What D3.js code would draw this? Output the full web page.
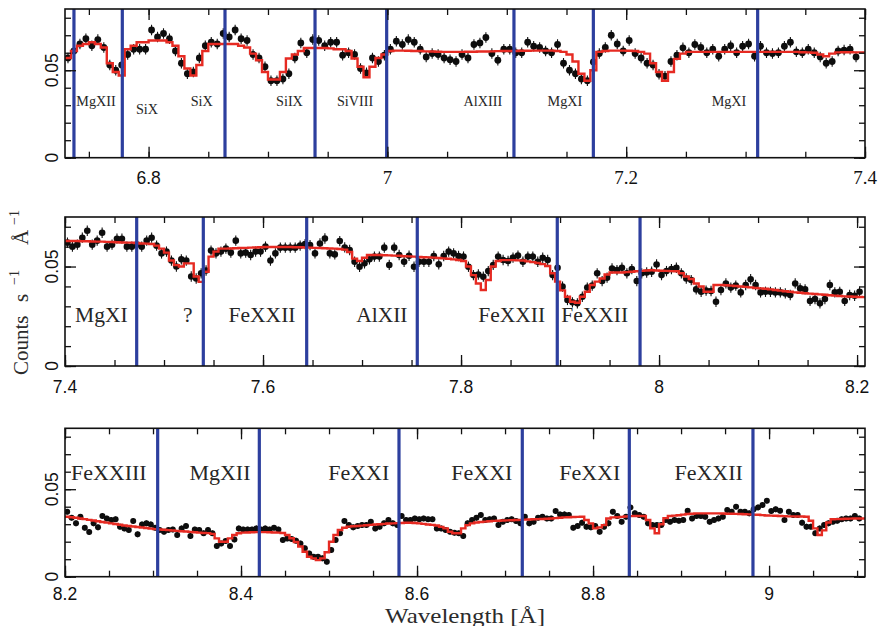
<!DOCTYPE html>
<html>
<head>
<meta charset="utf-8">
<script src="https://cdn.jsdelivr.net/npm/d3@7"></script>
<style>
  html, body { margin: 0; padding: 0; background: #fff; }
  svg { display: block; }
</style>
</head>
<body>
<svg id="chart" width="879" height="626"></svg>
<script>
// ---------------- spectral data (counts s^-1 A^-1, 0.005 A bins) ----------------
const binWidth = 0.005;

// Panel 1: 6.73 - 7.40 A
const p1Start = 6.73;
const p1Counts = [
  0.057,0.061,0.065,0.068,0.064,0.0675,0.063,0.053,0.050,0.053,
  0.059,0.062,0.062,0.062,0.073,0.069,0.071,0.068,0.061,0.054,
  0.048,0.049,0.057,0.064,0.066,0.065,0.071,0.069,0.073,0.068,
  0.067,0.059,0.057,0.052,0.044,0.044,0.045,0.048,0.057,0.0656,
  0.060,0.0675,0.067,0.064,0.066,0.066,0.0586,0.060,0.059,0.051,
  0.0485,0.057,0.055,0.0586,0.062,0.0666,0.0647,0.0675,0.066,0.062,
  0.0576,0.0595,0.059,0.057,0.056,0.055,0.059,0.057,0.0647,0.0656,
  0.0687,0.0595,0.0557,0.062,0.062,0.060,0.060,0.066,0.0637,0.063,
  0.061,0.060,0.0647,0.054,0.050,0.048,0.045,0.044,0.0547,0.0595,
  0.063,0.070,0.065,0.061,0.067,0.0595,0.057,0.054,0.053,0.0477,
  0.0466,0.055,0.0586,0.0628,0.060,0.0647,0.063,0.060,0.062,0.058,
  0.062,0.064,0.060,0.0637,0.065,0.058,0.0637,0.060,0.0595,0.060,
  0.0637,0.066,0.0605,0.060,0.062,0.060,0.0576,0.054,0.055,0.061,
  0.0615,0.062,0.0576
];
const p1Model = [
  0.057,0.061,0.064,0.065,0.066,0.065,0.063,0.054,0.049,0.047,
  0.062,0.064,0.066,0.066,0.067,0.067,0.067,0.066,0.064,0.058,
  0.051,0.047,0.053,0.061,0.065,0.065,0.065,0.065,0.065,0.064,
  0.063,0.0595,0.0557,0.049,0.0447,0.0447,0.049,0.0567,0.059,0.061,
  0.0627,0.0627,0.0627,0.0627,0.0625,0.062,0.062,0.061,0.0567,0.052,
  0.046,0.052,0.057,0.059,0.061,0.0612,0.0612,0.0611,0.061,0.061,
  0.0608,0.0607,0.0606,0.0605,0.0605,0.0605,0.0605,0.0606,0.0606,0.0607,
  0.0607,0.0608,0.0609,0.061,0.061,0.061,0.0611,0.0611,0.0612,0.0612,
  0.0612,0.0612,0.061,0.0605,0.059,0.055,0.048,0.044,0.050,0.0605,
  0.061,0.0612,0.0612,0.0612,0.0611,0.061,0.0605,0.0595,0.054,0.049,
  0.044,0.049,0.0565,0.0595,0.0605,0.0605,0.0605,0.0605,0.0605,0.0605,
  0.0605,0.0605,0.0605,0.0605,0.0605,0.0605,0.0605,0.0605,0.0605,0.0605,
  0.0605,0.0605,0.0605,0.0603,0.0602,0.060,0.059,0.058,0.0595,0.0602,
  0.0603,0.0603,0.0602,0.0602
];
const p1Lines = [6.7375, 6.778, 6.864, 6.9394, 6.9994, 7.106, 7.1725, 7.3101];
const p1Ions = ["MgXII", "SiX", "SiX", "SiIX", "SiVIII", "AlXIII", "MgXI", "MgXI"];
const p1IonWave = [6.756, 6.7987, 6.8445, 6.918, 6.9729, 7.080, 7.1487, 7.2861];
const p1IonLevel = [0.0295, 0.0247, 0.0295, 0.0295, 0.0295, 0.0295, 0.0295, 0.0295];
const p1TickLabels = ["6.8", "7", "7.2", "7.4"];
const p1TickValues = [6.8, 7.0, 7.2, 7.4];

// Panel 2: 7.40 - 8.21 A
const p2Start = 7.4;
const p2Counts = [
  0.062,0.060,0.061,0.0645,0.068,0.061,0.063,0.067,0.060,0.061,
  0.064,0.064,0.060,0.060,0.061,0.060,0.063,0.0645,0.0605,0.0566,
  0.0575,0.053,0.050,0.0536,0.053,0.045,0.044,0.0466,0.048,0.058,
  0.0566,0.0575,0.059,0.057,0.063,0.0566,0.057,0.0558,0.0575,0.0575,
  0.060,0.053,0.0566,0.0595,0.0595,0.0595,0.0595,0.0605,0.0613,0.0608,
  0.0566,0.0616,0.0641,0.0566,0.0561,0.0628,0.0596,0.0583,0.0524,0.0499,
  0.0516,0.0536,0.055,0.055,0.0595,0.0508,0.0595,0.0558,0.0524,0.0554,
  0.0499,0.0524,0.0524,0.0524,0.0553,0.0511,0.0553,0.0575,0.0566,0.0553,
  0.055,0.0499,0.0457,0.046,0.0449,0.0477,0.0508,0.055,0.0533,0.0528,
  0.0545,0.0555,0.0524,0.055,0.055,0.0524,0.0544,0.0533,0.0457,0.0494,
  0.0399,0.0332,0.032,0.0315,0.0348,0.0394,0.0404,0.0466,0.0427,0.0444,
  0.049,0.0482,0.0494,0.0466,0.0487,0.0427,0.0466,0.047,0.0474,0.051,
  0.0457,0.0477,0.0487,0.0494,0.0466,0.044,0.0432,0.0385,0.0373,0.0379,
  0.0377,0.0323,0.0382,0.0415,0.0394,0.0404,0.037,0.0407,0.0436,0.0407,
  0.037,0.0373,0.0373,0.037,0.037,0.0365,0.0357,0.0415,0.039,0.0385,
  0.0327,0.0337,0.0315,0.0337,0.0407,0.037,0.0373,0.0327,0.0357,0.0353,0.0373
];
const p2Model = [
  0.0628,0.0628,0.0628,0.0627,0.0627,0.0626,0.0625,0.0625,0.0624,0.0623,
  0.0622,0.0621,0.062,0.062,0.0618,0.0616,0.0615,0.0613,0.0605,0.059,
  0.057,0.053,0.0507,0.050,0.0516,0.0516,0.045,0.0423,0.0474,0.055,
  0.0575,0.059,0.059,0.0591,0.0592,0.0593,0.0594,0.0595,0.0596,0.0597,
  0.0598,0.0598,0.0598,0.0598,0.0598,0.0598,0.0597,0.0597,0.0596,0.0595,
  0.0594,0.0593,0.0592,0.0591,0.059,0.0588,0.0585,0.0573,0.054,0.0528,
  0.0544,0.0558,0.0558,0.0558,0.0557,0.0556,0.0555,0.0554,0.0552,0.0551,
  0.055,0.0548,0.0547,0.0546,0.0545,0.0543,0.0541,0.0539,0.0536,0.0533,
  0.0528,0.050,0.0457,0.0415,0.0382,0.0432,0.050,0.0528,0.0532,0.0532,
  0.0532,0.0531,0.053,0.0526,0.0522,0.0518,0.0512,0.0503,0.0466,0.0424,
  0.038,0.0348,0.0323,0.0318,0.0348,0.0373,0.0407,0.0424,0.044,0.046,
  0.047,0.047,0.047,0.0472,0.0474,0.0476,0.0478,0.048,0.0481,0.048,
  0.0479,0.0478,0.0477,0.0476,0.0466,0.045,0.0437,0.0415,0.040,0.0373,
  0.0373,0.0407,0.0407,0.0406,0.0404,0.0402,0.040,0.0398,0.0395,0.0392,
  0.039,0.0388,0.0385,0.0382,0.0379,0.0376,0.0373,0.037,0.0368,0.0366,
  0.0364,0.0362,0.036,0.0358,0.0356,0.0354,0.0352,0.035,0.0349,0.0348,0.0347,0.0346
];
const p2Lines = [7.4724, 7.5397, 7.6441, 7.7558, 7.8972, 7.9808];
const p2Ions = ["MgXI", "?", "FeXXII", "AlXII", "FeXXII", "FeXXII"];
const p2IonWave = [7.4367, 7.524, 7.599, 7.720, 7.8512, 7.935];
const p2IonLevel = [0.022, 0.022, 0.022, 0.022, 0.022, 0.022];
const p2TickLabels = ["7.4", "7.6", "7.8", "8", "8.2"];
const p2TickValues = [7.4, 7.6, 7.8, 8.0, 8.2];

// Panel 3: 8.20 - 9.11 A
const p3Start = 8.2;
const p3Counts = [
  0.0371,0.0337,0.0305,0.0343,0.028,0.0255,0.0305,0.0282,0.0347,0.0333,
  0.0324,0.0328,0.0286,0.0276,0.0267,0.0318,0.0242,0.0299,0.0305,0.0299,
  0.028,0.0267,0.0257,0.0267,0.027,0.0238,0.0276,0.029,0.0232,0.027,
  0.0267,0.0248,0.0267,0.0248,0.0175,0.019,0.0204,0.0175,0.0213,0.0276,
  0.027,0.027,0.027,0.0276,0.027,0.0276,0.027,0.028,0.027,0.021,
  0.0219,0.0215,0.0206,0.019,0.0162,0.0133,0.0114,0.0114,0.0105,0.0086,
  0.0152,0.021,0.0248,0.0318,0.0295,0.0282,0.029,0.0295,0.0295,0.0314,
  0.0276,0.0286,0.0305,0.0324,0.0305,0.0295,0.0347,0.0324,0.0324,0.0333,
  0.0328,0.0333,0.0328,0.0328,0.0276,0.0276,0.0267,0.0257,0.0251,0.0248,
  0.0232,0.0305,0.0324,0.0337,0.0352,0.0324,0.0328,0.0333,0.0295,0.0314,
  0.0324,0.0328,0.0318,0.0305,0.0343,0.0305,0.0314,0.0337,0.0343,0.0333,
  0.0333,0.0375,0.0356,0.0356,0.0352,0.028,0.029,0.0309,0.0286,0.0282,
  0.029,0.0257,0.0286,0.0305,0.0371,0.0347,0.0314,0.0343,0.0396,0.0362,
  0.0352,0.0343,0.0305,0.0295,0.0295,0.0295,0.0324,0.0314,0.0324,0.032,
  0.0324,0.0377,0.0333,0.0347,0.0347,0.0343,0.0314,0.0324,0.0333,0.0343,
  0.0381,0.0371,0.040,0.0371,0.0371,0.0362,0.0385,0.0396,0.041,0.0434,
  0.0375,0.0385,0.0377,0.0324,0.0371,0.0352,0.0352,0.0309,0.0286,0.0286,
  0.0248,0.0276,0.0295,0.0305,0.0314,0.032,0.0328,0.0333,0.0333,0.0347,0.0333
];
const p3Model = [
  0.0343,0.034,0.0337,0.0333,0.0329,0.0325,0.0321,0.0317,0.0313,0.0309,
  0.0305,0.0301,0.0297,0.0293,0.029,0.0287,0.0284,0.0281,0.0278,0.0275,
  0.0272,0.027,0.0268,0.0266,0.0264,0.0262,0.026,0.0258,0.0256,0.0254,
  0.0252,0.025,0.0249,0.0245,0.0219,0.0200,0.0200,0.0219,0.0238,0.0248,
  0.0252,0.0253,0.0254,0.0255,0.0255,0.0255,0.0254,0.0253,0.0252,0.025,
  0.0238,0.022,0.0198,0.0173,0.0143,0.0114,0.0105,0.0095,0.0105,0.0140,
  0.020,0.0238,0.0267,0.028,0.0286,0.0288,0.029,0.0292,0.0294,0.0296,
  0.0298,0.030,0.0302,0.0304,0.0305,0.0306,0.0307,0.0308,0.0308,0.0307,
  0.0305,0.0302,0.0298,0.0296,0.0293,0.0285,0.0276,0.0257,0.0248,0.0248,
  0.0276,0.0295,0.0305,0.031,0.0313,0.0315,0.0317,0.0319,0.032,0.0321,
  0.0322,0.0323,0.0324,0.0325,0.0326,0.0327,0.0328,0.0329,0.033,0.0331,
  0.0333,0.0335,0.0337,0.0339,0.034,0.0341,0.0342,0.0343,0.0324,0.0305,
  0.0276,0.0282,0.0295,0.0333,0.0339,0.034,0.0342,0.0344,0.0346,0.0347,
  0.0347,0.0347,0.0324,0.0276,0.0248,0.030,0.0335,0.0347,0.0349,0.0351,
  0.0355,0.0358,0.036,0.0362,0.0362,0.0362,0.0362,0.0362,0.0362,0.0361,
  0.036,0.036,0.0359,0.0358,0.0357,0.0356,0.0355,0.0354,0.0352,0.035,
  0.0349,0.0348,0.0347,0.0346,0.0345,0.0345,0.0344,0.0344,0.0343,0.032,
  0.0276,0.0238,0.0265,0.031,0.0328,0.0329,0.033,0.0331,0.0332,0.0333,0.0333,0.0333
];
const p3Lines = [8.3053, 8.4208, 8.5795, 8.7196, 8.8412, 8.9817];
const p3Ions = ["FeXXIII", "MgXII", "FeXXI", "FeXXI", "FeXXI", "FeXXII"];
const p3IonWave = [8.2498, 8.3761, 8.5338, 8.6736, 8.7962, 8.9314];
const p3IonLevel = [0.0553, 0.0553, 0.0553, 0.0553, 0.0553, 0.0553];
const p3TickLabels = ["8.2", "8.4", "8.6", "8.8", "9"];
const p3TickValues = [8.2, 8.4, 8.6, 8.8, 9.0];

// 1-sigma error half-widths
const p1Err = 0.003, p2Err = 0.0026, p3Err = 0.0016;

// ---------------- layout ----------------
const plotLeft = 65, plotRight = 865;
const RED = "#e62a22", BLUE = "#2d3f9e";
const SERIF = "'Liberation Serif', 'Times New Roman', serif";
const SANS = "'Liberation Sans', Arial, sans-serif";

const panels = [
  { start: p1Start, counts: p1Counts, model: p1Model, err: p1Err, lines: p1Lines,
    ions: p1Ions, ionWave: p1IonWave, ionLevel: p1IonLevel,
    tickValues: p1TickValues, tickLabels: p1TickLabels,
    top: 9, bottom: 157.7, xDom: [6.73, 7.4], yMax: 0.085, minorK: [135, 148],
    ionSize: 14.2, dotR: 3.4, labelBase: 183.5, serifTicks: [false, true, true, true] },
  { start: p2Start, counts: p2Counts, model: p2Model, err: p2Err, lines: p2Lines,
    ions: p2Ions, ionWave: p2IonWave, ionLevel: p2IonLevel,
    tickValues: p2TickValues, tickLabels: p2TickLabels,
    top: 217, bottom: 366, xDom: [7.4, 8.208], yMax: 0.0749, minorK: [148, 164],
    ionSize: 21.5, dotR: 3.3, labelBase: 392.5, serifTicks: [false, false, false, false, false] },
  { start: p3Start, counts: p3Counts, model: p3Model, err: p3Err, lines: p3Lines,
    ions: p3Ions, ionWave: p3IonWave, ionLevel: p3IonLevel,
    tickValues: p3TickValues, tickLabels: p3TickLabels,
    top: 428.3, bottom: 576.7, xDom: [8.2, 9.109], yMax: 0.0848, minorK: [164, 182],
    ionSize: 22, dotR: 3.0, labelBase: 599.5, serifTicks: [false, false, false, false, false] }
];

const svg = d3.select("#chart");
const defs = svg.append("defs");

panels.forEach((p, pi) => {
  const x = d3.scaleLinear().domain(p.xDom).range([plotLeft, plotRight]);
  const y = d3.scaleLinear().domain([0, p.yMax]).range([p.bottom, p.top]);
  const g = svg.append("g");

  const clipId = "clip" + pi;
  defs.append("clipPath").attr("id", clipId)
    .append("rect").attr("x", plotLeft).attr("y", p.top)
    .attr("width", plotRight - plotLeft).attr("height", p.bottom - p.top);
  const inner = g.append("g").attr("clip-path", `url(#${clipId})`);

  // ---- ticks (inward on all four sides) ----
  const minor = d3.range(p.minorK[0], p.minorK[1] + 1).map(k => +(k * 0.05).toFixed(2));
  const yMinor = d3.range(0, Math.floor(p.yMax * 100 + 1e-6) + 1).map(k => k / 100);
  const yMajor = [0, 0.05];
  const styleAxis = sel => {
    sel.select(".domain").remove();
    sel.selectAll("line").attr("stroke", "#111").attr("stroke-width", 1.3);
  };
  const addX = (axisFn, ty, vals, size) => {
    g.append("g").attr("transform", `translate(0,${ty})`)
      .call(axisFn(x).tickValues(vals).tickSize(-size).tickFormat(""))
      .call(styleAxis);
  };
  const addY = (axisFn, tx, vals, size) => {
    g.append("g").attr("transform", `translate(${tx},0)`)
      .call(axisFn(y).tickValues(vals).tickSize(-size).tickFormat(""))
      .call(styleAxis);
  };
  addX(d3.axisBottom, p.bottom, minor, 6);
  addX(d3.axisBottom, p.bottom, p.tickValues, 11);
  addX(d3.axisTop, p.top, minor, 6);
  addX(d3.axisTop, p.top, p.tickValues, 11);
  addY(d3.axisLeft, plotLeft, yMinor, 6);
  addY(d3.axisLeft, plotLeft, yMajor, 11);
  addY(d3.axisRight, plotRight, yMinor, 6);
  addY(d3.axisRight, plotRight, yMajor, 11);

  // ---- x tick labels ----
  g.selectAll("text.xt").data(p.tickValues).join("text")
    .attr("class", "xt")
    .attr("x", d => x(d))
    .attr("y", p.labelBase)
    .attr("text-anchor", "middle")
    .attr("font-family", (d, i) => p.serifTicks[i] ? SERIF : SANS)
    .attr("font-size", (d, i) => p.serifTicks[i] ? 19 : 17.5)
    .attr("fill", "#111")
    .text((d, i) => p.tickLabels[i]);

  // ---- y tick labels (rotated) ----
  g.selectAll("text.yt").data(yMajor).join("text")
    .attr("class", "yt")
    .attr("transform", d => `translate(58,${y(d)}) rotate(-90)`)
    .attr("text-anchor", "middle")
    .attr("font-family", SANS)
    .attr("font-size", 17.5)
    .attr("fill", "#111")
    .text(d => d === 0 ? "0" : "0.05");

  // ---- ion labels ----
  g.selectAll("text.ion").data(p.ions).join("text")
    .attr("class", "ion")
    .attr("x", (d, i) => x(p.ionWave[i]))
    .attr("y", (d, i) => y(p.ionLevel[i]))
    .attr("text-anchor", "middle")
    .attr("font-family", SERIF)
    .attr("font-size", p.ionSize)
    .attr("fill", "#262626")
    .text(d => d);

  // ---- observed counts with error bars ----
  const pts = p.counts.map((v, i) => ({ w: p.start + (i + 0.5) * binWidth, v }));
  inner.selectAll("line.err").data(pts).join("line")
    .attr("class", "err")
    .attr("x1", d => x(d.w)).attr("x2", d => x(d.w))
    .attr("y1", d => y(d.v - p.err)).attr("y2", d => y(d.v + p.err))
    .attr("stroke", "#111").attr("stroke-width", 1.1);
  inner.selectAll("circle.pt").data(pts).join("circle")
    .attr("class", "pt")
    .attr("cx", d => x(d.w)).attr("cy", d => y(d.v))
    .attr("r", p.dotR)
    .attr("fill", "#0d0d0d");

  // ---- model spectrum (histogram steps) ----
  const stepPts = p.model.map((v, i) => [p.start + i * binWidth, v]);
  stepPts.push([p.start + p.model.length * binWidth, p.model[p.model.length - 1]]);
  inner.append("path")
    .datum(stepPts)
    .attr("d", d3.line().x(d => x(d[0])).y(d => y(d[1])).curve(d3.curveStepAfter))
    .attr("fill", "none")
    .attr("stroke", RED)
    .attr("stroke-width", 2.4);

  // ---- line identifications ----
  inner.selectAll("line.id").data(p.lines).join("line")
    .attr("class", "id")
    .attr("x1", d => x(d)).attr("x2", d => x(d))
    .attr("y1", p.top).attr("y2", p.bottom)
    .attr("stroke", BLUE).attr("stroke-width", 3.2);

  // ---- frame ----
  g.append("rect")
    .attr("x", plotLeft).attr("y", p.top)
    .attr("width", plotRight - plotLeft).attr("height", p.bottom - p.top)
    .attr("fill", "none").attr("stroke", "#111").attr("stroke-width", 1.6);
});

// ---- axis titles ----
const yTitle = svg.append("g").attr("transform", "translate(27.5,375) rotate(-90)")
  .attr("font-family", SERIF).attr("fill", "#2b2b2b");
yTitle.append("text").attr("x", 0).attr("y", 0).attr("font-size", 21).text("Counts");
yTitle.append("text").attr("x", 73).attr("y", 0).attr("font-size", 21).text("s");
yTitle.append("text").attr("x", 90).attr("y", -9).attr("font-size", 14).text("\u22121");
yTitle.append("text").attr("x", 130).attr("y", 0).attr("font-size", 21).text("\u00C5");
yTitle.append("text").attr("x", 150).attr("y", -9).attr("font-size", 14).text("\u22121");

svg.append("text")
  .attr("x", 385).attr("y", 622.5)
  .attr("font-family", SERIF).attr("font-size", 21.5)
  .attr("fill", "#2b2b2b")
  .attr("textLength", 160).attr("lengthAdjust", "spacingAndGlyphs")
  .text("Wavelength [\u00C5]");
</script>
</body>
</html>
